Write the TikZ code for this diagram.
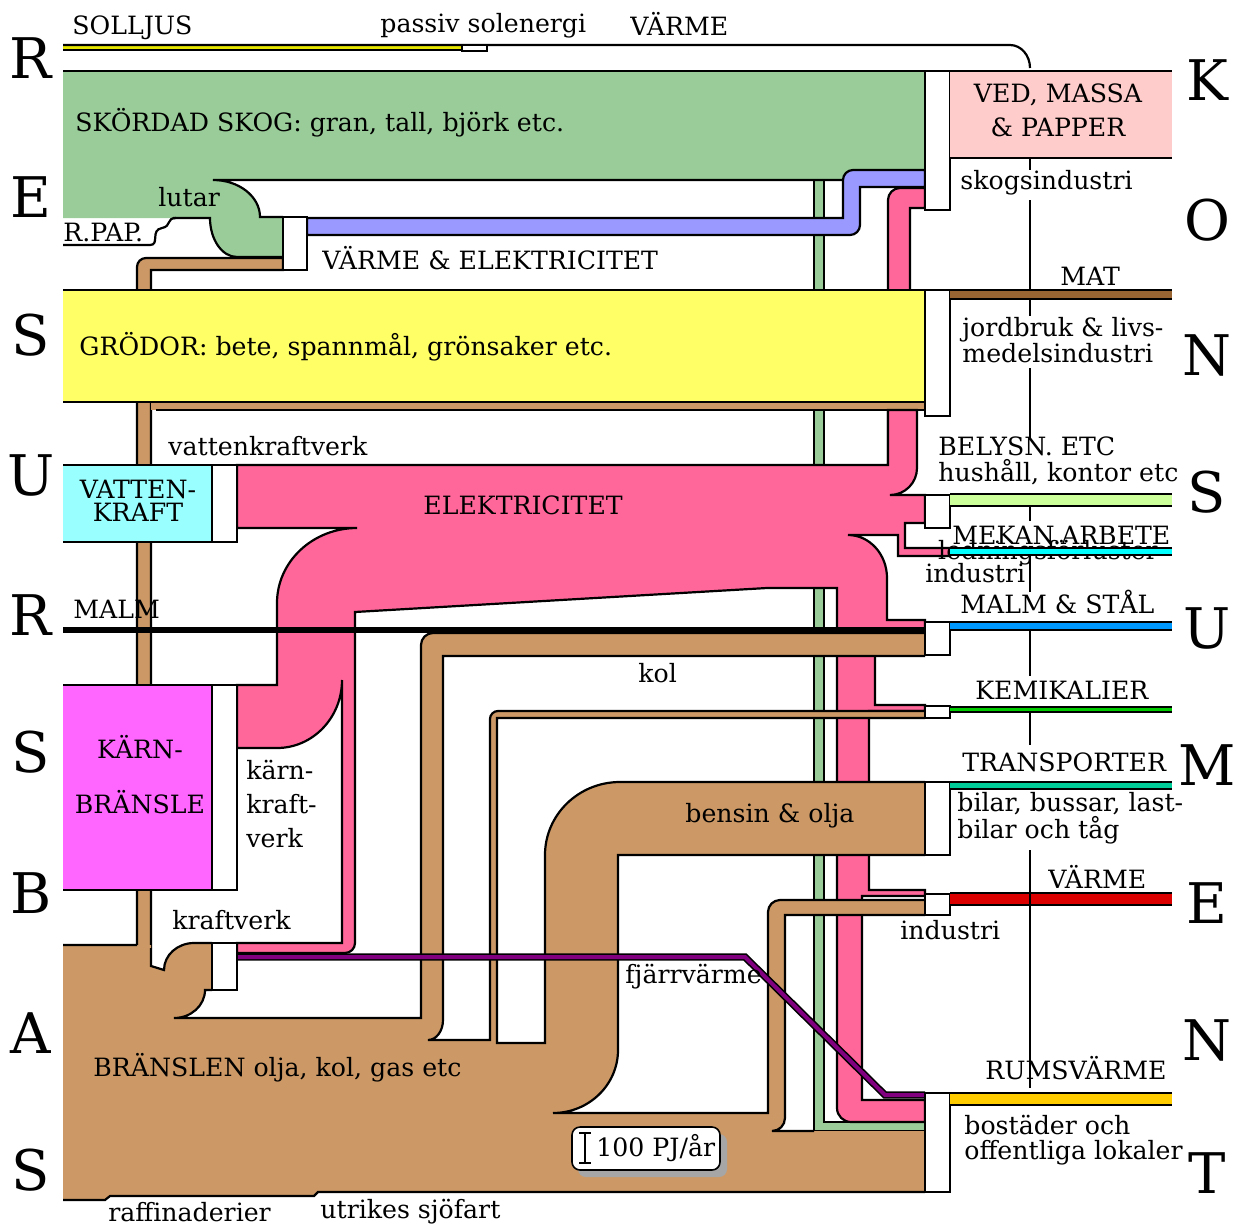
\documentclass[tikz,border=0pt]{standalone}
\usepackage{fontspec}
\setmainfont{DejaVu Serif}
\usepackage{xcolor}
\definecolor{skogGreen}{RGB}{153,204,153}
\definecolor{warmBlue}{RGB}{153,153,255}
\definecolor{fuelBrown}{RGB}{204,153,102}
\definecolor{cropYellow}{RGB}{255,255,102}
\definecolor{elPink}{RGB}{255,102,153}
\definecolor{waterCyan}{RGB}{153,255,255}
\definecolor{nuclMagenta}{RGB}{255,102,255}
\definecolor{fjarrPurple}{RGB}{128,0,128}
\definecolor{matBrown}{RGB}{153,102,51}
\definecolor{vedPink}{RGB}{255,204,204}
\definecolor{lightGreen}{RGB}{204,255,153}
\definecolor{mekCyan}{RGB}{0,255,255}
\definecolor{steelBlue}{RGB}{0,153,255}
\definecolor{chemGreen}{RGB}{0,204,0}
\definecolor{transTeal}{RGB}{0,204,153}
\definecolor{heatRed}{RGB}{221,0,0}
\definecolor{roomGold}{RGB}{255,204,0}
\definecolor{sunYellow}{RGB}{230,230,0}

\begin{document}
\begin{tikzpicture}[x=0.5pt, y=-0.5pt]
            % Styles
            \tikzstyle{rim} = [draw=black, line width=1.1pt]
            \tikzstyle{conv} = [draw=black, fill=white, line width=1.1pt]
            \tikzstyle{lbl} = [inner sep=0pt, font=\fontsize{12.6}{13}\selectfont]
            \tikzstyle{sideletter} = [inner sep=0pt, font=\fontsize{28}{28}\selectfont]

            \useasboundingbox (0,0) rectangle (1241,1226);

            % Sun
            \fill[sunYellow] (63,45) rectangle (462,50);
            \draw[rim] (63,50) -- (462,50);
            \draw[rim] (63,45) -- (1010,45) arc[start angle=-90, end angle=0, x radius=20, y radius=23];
            \draw[conv] (462,45) rectangle (487,51);

            % Flows behind the boxes
            \draw[rim, fill=skogGreen] (814,175) -- (814,1131) -- (925,1131) -- (925,1122) -- (824,1122) -- (824,175) -- cycle;
            \draw[rim, fill=elPink] (888,470) -- (888,200) arc[start angle=180, end angle=270, radius=12] -- (925,188) -- (925,208) -- (910,208) -- (910,470) -- cycle;

            % Forest
            \fill[skogGreen] (63,71) -- (925,71) -- (925,180) -- (213,180) arc[start angle=-90, end angle=0, x radius=47, y radius=37] -- (283,217) -- (283,257) -- (237,257) arc[start angle=90, end angle=180, x radius=27, y radius=39] -- (63,218) -- cycle;
            \draw[rim] (63,71) -- (925,71);
            \draw[rim] (925,180) -- (213,180) arc[start angle=-90, end angle=0, x radius=47, y radius=37] -- (283,217);
            \draw[rim] (283,257) -- (237,257) arc[start angle=90, end angle=180, x radius=27, y radius=39] -- (173,218);
            \draw[rim] (63,245) -- (150,245) .. controls (160,245) and (150,230) .. (162,228) .. controls (172,226) and (166,218) .. (176,218);

            \draw[rim, fill=warmBlue] (307,218) -- (843,218) -- (843,180) arc[start angle=180, end angle=270, radius=10] -- (925,170) -- (925,187) -- (860,187) -- (860,225) arc[start angle=0, end angle=90, radius=10] -- (307,235) -- cycle;
            \draw[rim, fill=fuelBrown] (151,948) -- (151,270) -- (283,270) -- (283,258) -- (146,258) arc[start angle=270, end angle=180, radius=9] -- (137,948);

            % Crops, water, nuclear
            \fill[cropYellow] (63,290) rectangle (925,402);
            \draw[rim] (63,290) -- (925,290) (63,402) -- (925,402);
            \fill[fuelBrown] (151,403) rectangle (925,410);
            \draw[rim] (156,410) -- (925,410);
            \fill[waterCyan] (63,465) rectangle (212,542);
            \draw[rim] (63,465) -- (212,465) (63,542) -- (212,542);
            \fill[nuclMagenta] (63,685) rectangle (212,890);
            \draw[rim] (63,685) -- (212,685) (63,890) -- (212,890);

            % Electricity
            \draw[rim, fill=elPink] (237,465) -- (888,465) -- (888,410) -- (917,410) -- (917,468) arc[start angle=0, end angle=90, radius=27] -- (925,495) -- (925,523) -- (905,523) -- (905,548) -- (950,548) -- (950,556) -- (898,556) -- (898,535) -- (848,535) arc[start angle=-90, end angle=0, x radius=39, y radius=43] -- (887,620) -- (925,620) -- (925,632) -- (875,632) -- (875,705) -- (925,705) -- (925,711) -- (869,711) -- (869,890) -- (925,890) -- (925,896) -- (862,896) -- (862,1100) -- (925,1100) -- (925,1122) -- (851,1122) arc[start angle=90, end angle=180, radius=14] -- (837,588) -- (767,588) -- (355,612) -- (355,943) arc[start angle=0, end angle=90, radius=10] -- (237,953) -- (237,943) -- (342,943) -- (342,680) arc[start angle=0, end angle=90, x radius=65, y radius=68] -- (237,748) -- (237,685) -- (277,685) -- (277,603) arc[start angle=180, end angle=270, x radius=80, y radius=75] -- (237,528) -- cycle;

            \draw[line width=3pt] (63,630) -- (925,630);

            % Fuels
            \fill[fuelBrown] (63,1200) -- (63,945) -- (151,945) -- (151,966) -- (164,970) arc[start angle=180, end angle=270, x radius=30, y radius=27] -- (212,943) -- (212,990) -- (205,990) arc[start angle=0, end angle=90, x radius=31, y radius=28] -- (421,1018) -- (421,645) arc[start angle=180, end angle=270, radius=12] -- (925,633) -- (925,656) -- (443,656) -- (443,1020) arc[start angle=0, end angle=90, x radius=15, y radius=20] -- (490,1040) -- (490,719) arc[start angle=180, end angle=270, radius=8] -- (925,711) -- (925,718) -- (497,718) -- (497,1043) -- (545,1043) -- (545,855) arc[start angle=180, end angle=270, x radius=75, y radius=73] -- (925,782) -- (925,855) -- (618,855) -- (618,1050) arc[start angle=0, end angle=90, x radius=65, y radius=63] -- (768,1113) -- (768,912) arc[start angle=180, end angle=270, radius=12] -- (925,900) -- (925,915) -- (785,915) -- (785,1118) arc[start angle=0, end angle=90, radius=13] -- (925,1131) -- (925,1192) -- (318,1192) -- (314,1196) -- (110,1196) -- (105,1200) -- cycle;
            \draw[rim] (63,945) -- (137,945)
                (151,948) -- (151,966) -- (164,970) arc[start angle=180, end angle=270, x radius=30, y radius=27] -- (212,943)
                (212,990) -- (205,990) arc[start angle=0, end angle=90, x radius=31, y radius=28] -- (421,1018) -- (421,645) arc[start angle=180, end angle=270, radius=12] -- (925,633)
                (925,656) -- (443,656) -- (443,1020) arc[start angle=0, end angle=90, x radius=15, y radius=20] -- (490,1040) -- (490,719) arc[start angle=180, end angle=270, radius=8] -- (925,711)
                (925,718) -- (497,718) -- (497,1043) -- (545,1043) -- (545,855) arc[start angle=180, end angle=270, x radius=75, y radius=73] -- (925,782)
                (925,855) -- (618,855) -- (618,1050) arc[start angle=0, end angle=90, x radius=65, y radius=63] -- (768,1113) -- (768,912) arc[start angle=180, end angle=270, radius=12] -- (925,900)
                (925,915) -- (785,915) -- (785,1118) arc[start angle=0, end angle=90, radius=13] -- (814,1131)
                (925,1192) -- (318,1192) -- (314,1196) -- (110,1196) -- (105,1200) -- (63,1200);

            \draw[line width=0.8pt, double=fjarrPurple, double distance=2pt] (237,957) -- (745,957) -- (885,1095) -- (925,1095);

            % Converters
            \foreach \ya/\yb in {71/210, 290/416, 495/528, 622/655, 706/718, 782/855, 894/915, 1093/1192}
                \draw[conv] (925,\ya) rectangle (950,\yb);
            \draw[conv] (212,465) rectangle (237,542);
            \draw[conv] (212,685) rectangle (237,890);
            \draw[conv] (212,943) rectangle (237,990);
            \draw[conv] (283,217) rectangle (307,270);

            % Consumers
            \node[lbl] (ledn) at (1048,553) {ledningsförluster};
            \fill[vedPink] (950,71) rectangle (1172,158);
            \draw[rim] (950,71) -- (1172,71) (950,158) -- (1172,158);
            \foreach \ya/\yb/\col in {290/299/matBrown, 494/506/lightGreen, 548/555/mekCyan, 622/630/steelBlue, 707/712/chemGreen, 782/789/transTeal, 893/905/heatRed, 1093/1105/roomGold}
            {
                \fill[\col] (950,\ya) rectangle (1172,\yb);
                \draw[rim] (950,\ya) -- (1172,\ya) (950,\yb) -- (1172,\yb);
            }
            \draw[line width=1.1pt] (1030,158) -- (1030,170) (1030,200) -- (1030,290) (1030,299) -- (1030,316) (1030,368) -- (1030,438) (1030,506) -- (1030,521) (1030,555) -- (1030,592) (1030,630) -- (1030,676) (1030,712) -- (1030,745) (1030,850) -- (1030,1088);

            % Scale
            \fill[gray!70, rounded corners=4pt] (578,1134) rectangle (727,1177);
            \draw[fill=white, rounded corners=4pt, line width=0.8pt] (572,1127) rectangle (720,1170);
            \draw[line width=1.2pt] (585,1133) -- (585,1163) (579,1133) -- (591,1133) (579,1163) -- (591,1163);
            \node[lbl, anchor=west] (pj) at (596,1148) {100 PJ/år};

            % Nodes - explicit coordinates
            \node[lbl, anchor=west] (solljus) at (72,28) {SOLLJUS};
            \node[lbl, anchor=west] (passiv) at (380,26) {passiv solenergi};
            \node[lbl, anchor=west] (varmetop) at (630,24) {VÄRME};
            \node[lbl, anchor=west] (skog) at (75,123) {SKÖRDAD SKOG: gran, tall, björk etc.};
            \node[lbl, anchor=west] (lutar) at (158,197) {lutar};
            \node[lbl, anchor=west] (rpap) at (63,232) {R.PAP.};
            \node[lbl, anchor=west] (varmeel) at (322,258) {VÄRME \& ELEKTRICITET};
            \node[lbl, anchor=west] (grodor) at (79,347) {GRÖDOR: bete, spannmål, grönsaker etc.};
            \node[lbl, anchor=west] (vattenkv) at (168,446) {vattenkraftverk};
            \node[lbl, align=center, font=\fontsize{12.6}{11.5}\selectfont] (vatten) at (138,501) {VATTEN-\\KRAFT};
            \node[lbl, anchor=west] (elektr) at (423,505) {ELEKTRICITET};
            \node[lbl, anchor=west] (malm) at (73,609) {MALM};
            \node[lbl, anchor=west] (kol) at (638,673) {kol};
            \node[lbl, align=center, font=\fontsize{12.6}{27.5}\selectfont] (karn) at (140,775) {KÄRN-\\BRÄNSLE};
            \node[lbl, anchor=west, align=left, font=\fontsize{12.6}{17}\selectfont] (karnkv) at (246,804) {kärn-\\kraft-\\verk};
            \node[lbl, anchor=west] (bensin) at (685,816) {bensin \& olja};
            \node[lbl, anchor=west] (kraftverk) at (172,920) {kraftverk};
            \node[lbl, anchor=west] (fjarr) at (625,977) {fjärrvärme};
            \node[lbl, anchor=west] (bransle) at (93,1068) {BRÄNSLEN olja, kol, gas etc};
            \node[lbl, anchor=west] (raff) at (108,1212) {raffinaderier};
            \node[lbl, anchor=west] (sjofart) at (320,1212) {utrikes sjöfart};

            \node[lbl, align=center, font=\fontsize{12.6}{17}\selectfont] (ved) at (1058,110) {VED, MASSA\\\& PAPPER};
            \node[lbl, anchor=west] (skogsind) at (960,183) {skogsindustri};
            \node[lbl, anchor=west] (mat) at (1060,276) {MAT};
            \node[lbl, anchor=west, align=left, font=\fontsize{12.6}{12}\selectfont] (jordbruk) at (962,340) {jordbruk \& livs-\\medelsindustri};
            \node[lbl, anchor=west, align=left] (belysn) at (938,461) {BELYSN. ETC\\hushåll, kontor etc};
            \node[lbl, anchor=west] (mekan) at (952,535) {MEKAN.ARBETE};
            \node[lbl, anchor=west] (industri1) at (925,573) {industri};
            \node[lbl, anchor=west] (malmstal) at (960,602) {MALM \& STÅL};
            \node[lbl, anchor=west] (kemi) at (975,690) {KEMIKALIER};
            \node[lbl, anchor=west] (transp) at (962,762) {TRANSPORTER};
            \node[lbl, anchor=west, align=left, font=\fontsize{12.6}{12.5}\selectfont] (bilar) at (957,818) {bilar, bussar, last-\\bilar och tåg};
            \node[lbl, anchor=west] (varme2) at (1048,877) {VÄRME};
            \node[lbl, anchor=west] (industri2) at (900,930) {industri};
            \node[lbl, anchor=west] (rums) at (985,1068) {RUMSVÄRME};
            \node[lbl, anchor=west, align=left, font=\fontsize{12.6}{12.5}\selectfont] (bostader) at (964,1140) {bostäder och\\offentliga lokaler};

            \foreach \ch/\yy [count=\i] in {R/58, E/197, S/335, U/475, R/615, S/752, B/893, A/1033, S/1170}
                \node[sideletter] (res\i) at (31,\yy) {\ch};
            \foreach \ch/\yy [count=\i] in {K/80, O/220, N/355, S/492, U/628, M/765, E/903, N/1040, T/1173}
                \node[sideletter] (kon\i) at (1207,\yy) {\ch};
        \end{tikzpicture}
\end{document}
